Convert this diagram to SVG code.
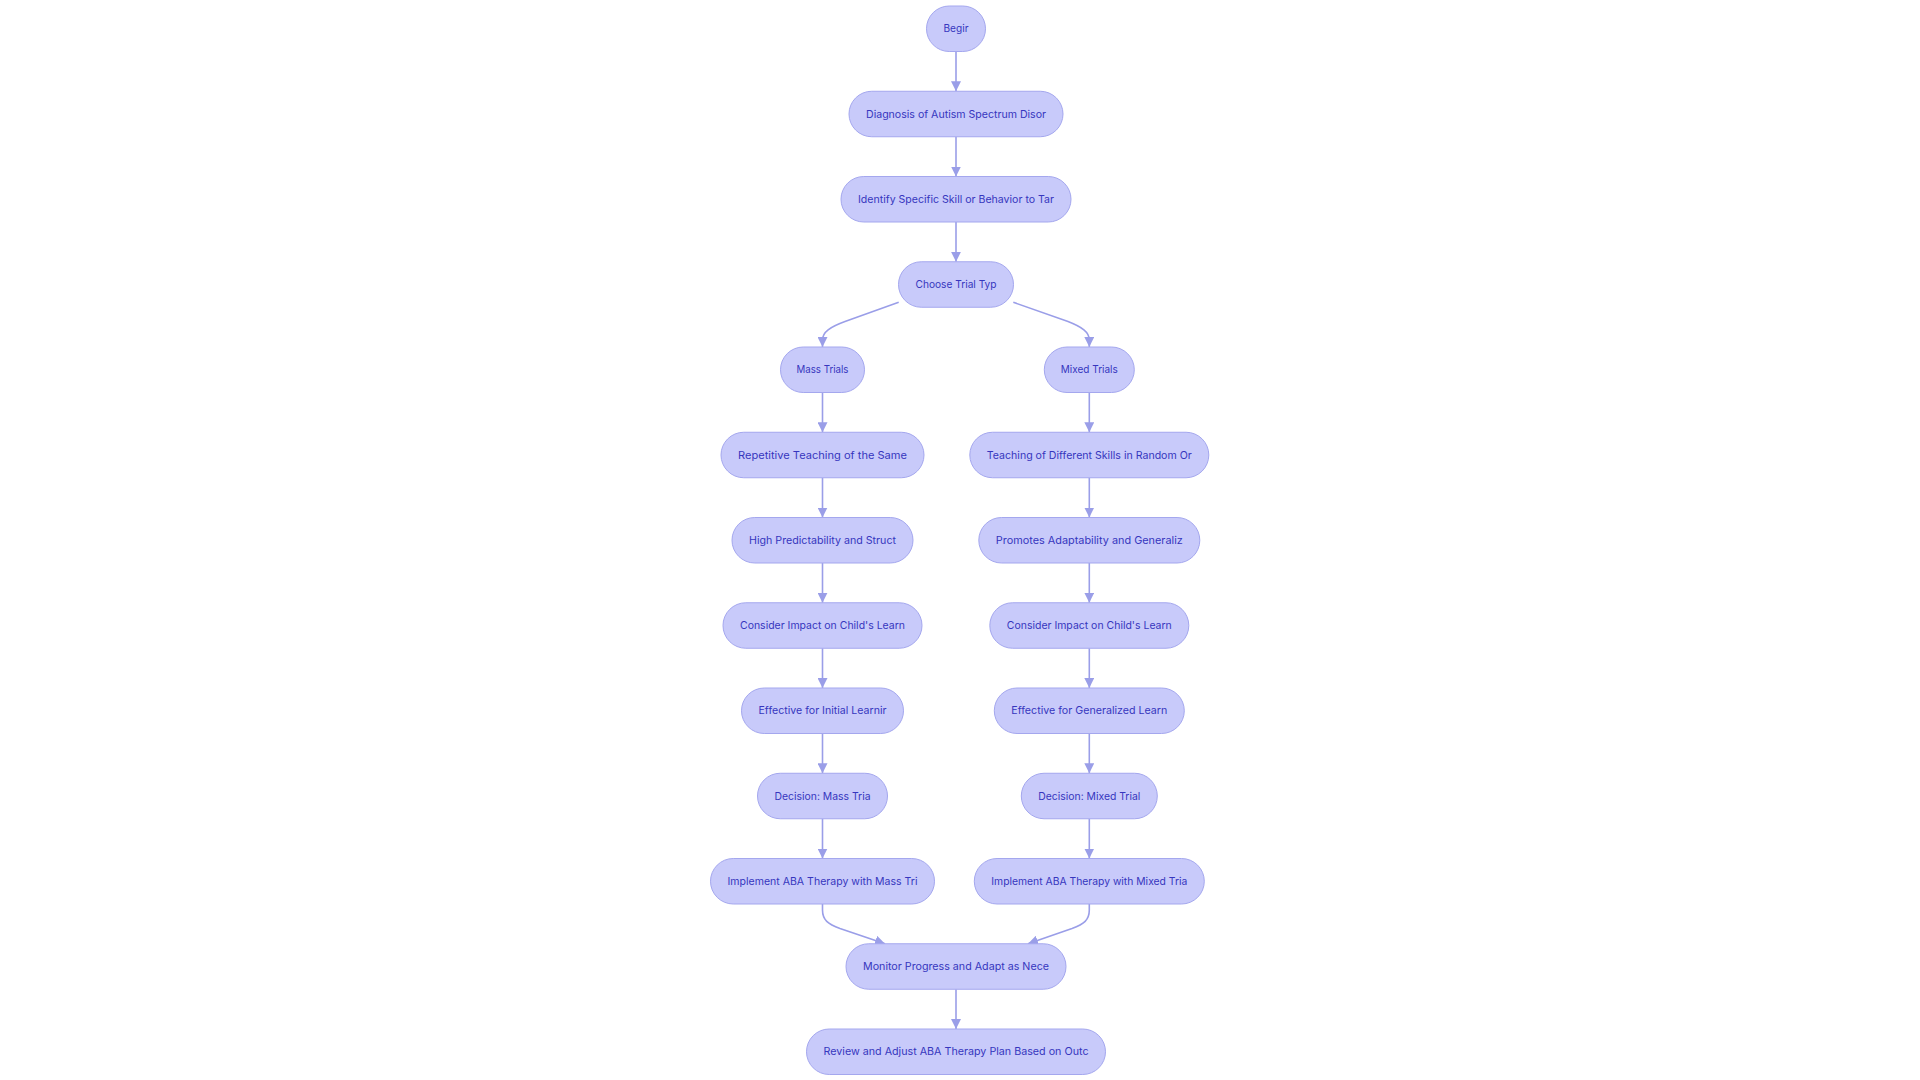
<svg xmlns="http://www.w3.org/2000/svg" width="1920" height="1080" viewBox="0 0 1920 1080">
<defs>
<style>
.node rect{fill:#C8CAFA;stroke:#A4A7EE;stroke-width:1}
.node text{font-family:Inter,"Liberation Sans",sans-serif;font-size:10.5px;fill:#3636BE;text-anchor:middle;dominant-baseline:central}
.edge{fill:none;stroke:#9A9EE8;stroke-width:1.6;marker-end:url(#arrow)}
</style>
<marker id="arrow" markerUnits="userSpaceOnUse" markerWidth="10" markerHeight="10" viewBox="0 0 10 10" refX="10" refY="5" orient="auto">
<path d="M0,0 L10,5 L0,10 z" fill="#9A9EE8"/>
</marker>
</defs>
<rect width="1920" height="1080" fill="#ffffff"/>
<g id="connectors">
<path class="edge" d="M956,51.5 V91.25"/>
<path class="edge" d="M956,136.75 V176.5"/>
<path class="edge" d="M956,222 V261.75"/>
<path class="edge" d="M898.7,302.3 L845,321.5 C830,327 822.5,332 822.5,340 V347"/>
<path class="edge" d="M1013.3,302.3 L1068,321.5 C1082,327 1089.3,332 1089.3,340 V347"/>
<path class="edge" d="M822.5,392.5 V432.25"/>
<path class="edge" d="M822.5,477.75 V517.5"/>
<path class="edge" d="M822.5,563 V602.75"/>
<path class="edge" d="M822.5,648.25 V688"/>
<path class="edge" d="M822.5,733.5 V773.25"/>
<path class="edge" d="M822.5,818.75 V858.5"/>
<path class="edge" d="M1089.3,392.5 V432.25"/>
<path class="edge" d="M1089.3,477.75 V517.5"/>
<path class="edge" d="M1089.3,563 V602.75"/>
<path class="edge" d="M1089.3,648.25 V688"/>
<path class="edge" d="M1089.3,733.5 V773.25"/>
<path class="edge" d="M1089.3,818.75 V858.5"/>
<path class="edge" d="M822.5,904 V910 C822.5,920 828,924 840,928.5 L885,943.75"/>
<path class="edge" d="M1089.3,904 V910 C1089.3,920 1084,924 1072,928.5 L1028,943.75"/>
<path class="edge" d="M956,989.25 V1029"/>
</g>
<g id="n-begin" class="node"><rect x="926.5" y="6" width="59" height="45.5" rx="22.75"/><text x="956" y="28.75" textLength="25" lengthAdjust="spacingAndGlyphs">Begir</text></g>
<g id="n-diagnosis" class="node"><rect x="849" y="91.25" width="214" height="45.5" rx="22.75"/><text x="956" y="114" textLength="180" lengthAdjust="spacingAndGlyphs">Diagnosis of Autism Spectrum Disor</text></g>
<g id="n-identify" class="node"><rect x="841" y="176.5" width="230" height="45.5" rx="22.75"/><text x="956" y="199.25" textLength="196" lengthAdjust="spacingAndGlyphs">Identify Specific Skill or Behavior to Tar</text></g>
<g id="n-choose" class="node"><rect x="898.5" y="261.75" width="115" height="45.5" rx="22.75"/><text x="956" y="284.5" textLength="81" lengthAdjust="spacingAndGlyphs">Choose Trial Typ</text></g>
<g id="n-mass" class="node"><rect x="780.5" y="347" width="84" height="45.5" rx="22.75"/><text x="822.5" y="369.75" textLength="52" lengthAdjust="spacingAndGlyphs">Mass Trials</text></g>
<g id="n-mixed" class="node"><rect x="1044.3" y="347" width="90" height="45.5" rx="22.75"/><text x="1089.3" y="369.75" textLength="57" lengthAdjust="spacingAndGlyphs">Mixed Trials</text></g>
<g id="n-repetitive" class="node"><rect x="721" y="432.25" width="203" height="45.5" rx="22.75"/><text x="822.5" y="455" textLength="169" lengthAdjust="spacingAndGlyphs">Repetitive Teaching of the Same</text></g>
<g id="n-teaching" class="node"><rect x="969.8" y="432.25" width="239" height="45.5" rx="22.75"/><text x="1089.3" y="455" textLength="205" lengthAdjust="spacingAndGlyphs">Teaching of Different Skills in Random Or</text></g>
<g id="n-high" class="node"><rect x="732" y="517.5" width="181" height="45.5" rx="22.75"/><text x="822.5" y="540.25" textLength="147" lengthAdjust="spacingAndGlyphs">High Predictability and Struct</text></g>
<g id="n-promotes" class="node"><rect x="978.8" y="517.5" width="221" height="45.5" rx="22.75"/><text x="1089.3" y="540.25" textLength="187" lengthAdjust="spacingAndGlyphs">Promotes Adaptability and Generaliz</text></g>
<g id="n-consider-l" class="node"><rect x="723" y="602.75" width="199" height="45.5" rx="22.75"/><text x="822.5" y="625.5" textLength="165" lengthAdjust="spacingAndGlyphs">Consider Impact on Child's Learn</text></g>
<g id="n-consider-r" class="node"><rect x="989.8" y="602.75" width="199" height="45.5" rx="22.75"/><text x="1089.3" y="625.5" textLength="165" lengthAdjust="spacingAndGlyphs">Consider Impact on Child's Learn</text></g>
<g id="n-effective-l" class="node"><rect x="741.5" y="688" width="162" height="45.5" rx="22.75"/><text x="822.5" y="710.75" textLength="128" lengthAdjust="spacingAndGlyphs">Effective for Initial Learnir</text></g>
<g id="n-effective-r" class="node"><rect x="994.3" y="688" width="190" height="45.5" rx="22.75"/><text x="1089.3" y="710.75" textLength="156" lengthAdjust="spacingAndGlyphs">Effective for Generalized Learn</text></g>
<g id="n-decision-l" class="node"><rect x="757.5" y="773.25" width="130" height="45.5" rx="22.75"/><text x="822.5" y="796" textLength="96" lengthAdjust="spacingAndGlyphs">Decision: Mass Tria</text></g>
<g id="n-decision-r" class="node"><rect x="1021.3" y="773.25" width="136" height="45.5" rx="22.75"/><text x="1089.3" y="796" textLength="102" lengthAdjust="spacingAndGlyphs">Decision: Mixed Trial</text></g>
<g id="n-implement-l" class="node"><rect x="710.5" y="858.5" width="224" height="45.5" rx="22.75"/><text x="822.5" y="881.25" textLength="190" lengthAdjust="spacingAndGlyphs">Implement ABA Therapy with Mass Tri</text></g>
<g id="n-implement-r" class="node"><rect x="974.3" y="858.5" width="230" height="45.5" rx="22.75"/><text x="1089.3" y="881.25" textLength="196" lengthAdjust="spacingAndGlyphs">Implement ABA Therapy with Mixed Tria</text></g>
<g id="n-monitor" class="node"><rect x="846" y="943.75" width="220" height="45.5" rx="22.75"/><text x="956" y="966.5" textLength="186" lengthAdjust="spacingAndGlyphs">Monitor Progress and Adapt as Nece</text></g>
<g id="n-review" class="node"><rect x="806.5" y="1029" width="299" height="45.5" rx="22.75"/><text x="956" y="1051.75" textLength="265" lengthAdjust="spacingAndGlyphs">Review and Adjust ABA Therapy Plan Based on Outc</text></g>
</svg>
